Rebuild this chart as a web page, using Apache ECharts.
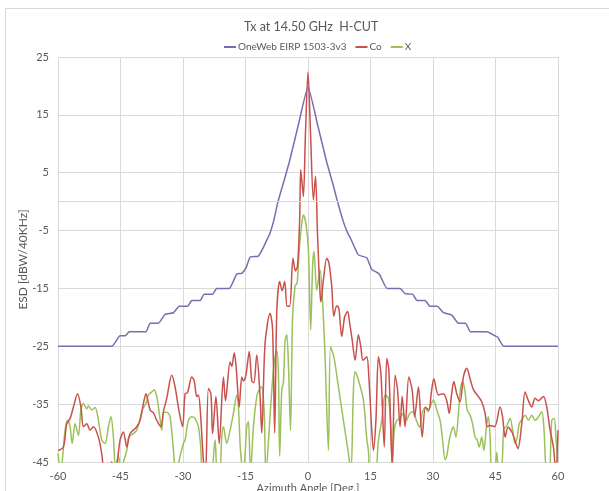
<!DOCTYPE html>
<html>
<head>
<meta charset="utf-8">
<script src="https://cdn.jsdelivr.net/npm/echarts@6/dist/echarts.min.js"></script>
<style>html,body{margin:0;padding:0;background:#fff;}#c{width:609px;height:491px;}</style>
</head>
<body>
<div id="c"></div>
<script>
const xTicks = [-60, -45, -30, -15, 0, 15, 30, 45, 60];
const yTicks = [-45, -35, -25, -15, -5, 5, 15, 25];

const envAngle = [-60, -47.1, -45.1, -43.9, -42.9, -38.9, -37.9, -35.9, -34.3, -32.3, -30.9, -28.9, -27.9, -25.9, -24.9, -22.9, -21.9, -18.9, -17.1, -15.9, -14.9, -13.9, -11.9, -10.7, -9.8, -9.1, -8.3, -7.2, -6.0, -4.5, -2.3, 0,
  2.3, 4.5, 6.0, 6.9, 8.5, 9.5, 10.3, 12.1, 14.1, 15.3, 17.1, 19.0, 22.1, 23.3, 25.1, 26.2, 28.1, 29.3, 31.0, 32.5, 34.5, 36.1, 37.8, 39.0, 42.9, 44.9, 45.5, 47.0, 60];
const envValue = [-25, -25, -23.2, -23.2, -22.5, -22.5, -21, -21, -19.5, -19.2, -18.1, -18.1, -17.1, -17.1, -16, -16, -15, -15, -12.5, -12.4, -11.5, -9.6, -9.4, -7.9, -6.5, -5.4, -3.5, 0, 3, 6.8, 13.3, 19.8,
  13.3, 6.8, 3, 0.5, -3.5, -5.4, -6.5, -9.2, -9.7, -11.7, -12.5, -15, -15, -15.9, -16, -17.1, -17.1, -18.1, -18.1, -19.2, -19.6, -21, -21, -22.5, -22.5, -23.2, -23.4, -25, -25];

const coAngle = [-60, -58.7, -57.9, -57.1, -56.3, -55.3, -54.5, -53.9, -53.1, -52.3, -51.5, -50.3, -49.5, -48.8, -47.8, -47.1, -46.3, -45.1, -44.3, -43.5, -42.7, -41.1, -40.3, -39.5, -38.9, -37.9, -37.1, -36.3, -35.3, -34.7, -33.9, -32.7, -31.9, -31, -30.1, -29.5, -28.9, -27.9, -27.3, -26.7, -26.3, -25.8, -25.1, -24.6, -23.9, -23.3, -22.9, -22.1, -21.3, -20.3, -19.8, -18.7, -18.3, -17.7, -17.2, -16.5, -15.9, -15.5, -14.9, -14.1, -13.5, -13, -12.3, -11.5, -11.1, -10.3, -9.1, -8.5, -8.0, -7.5, -6.8, -6.2, -5.6, -5.0, -4.4, -3.6, -3.0, -2.5, -2.0, -1.75, -1.4, -1.1, -0.6, 0,
  0.6, 1.3, 1.8, 2.3, 2.9, 3.1, 3.7, 4.5, 5.0, 5.7, 6.2, 6.9, 7.4, 8.1, 8.8, 9.5, 10, 10.6, 11.3, 12.1, 12.7, 13.2, 14.1, 14.6, 15.3, 15.7, 16.3, 16.9, 17.5, 18.3, 18.9, 19.4, 20.2, 20.9, 21.5, 22.1, 22.6, 23.3, 24.2, 25, 25.6, 26.5, 27.4, 28.2, 29, 29.6, 30.2, 31.3, 32.5, 33.3, 33.9, 34.4, 35, 35.7, 36.5, 37.3, 38.1, 38.9, 39.7, 40.9, 41.7, 42.5, 43, 43.6, 44.8, 46.1, 46.7, 47.3, 48, 49, 49.9, 50.4, 51.3, 52.1, 52.9, 53.7, 54.5, 55.3, 56.5, 57.3, 58.1, 58.9, 59.5, 60];
const coValue = [-43, -42.4, -38.4, -37.5, -35.5, -33.2, -35.5, -38.9, -38.4, -39.5, -38.9, -40.7, -43.6, -47, -46, -45, -47, -41.2, -39.8, -42.4, -40.1, -38.9, -37.8, -34.9, -33.2, -36, -36.5, -37.8, -38.9, -36.3, -34, -30, -32, -36, -38.9, -33.2, -33, -30.3, -31, -33.7, -33.4, -36.6, -44.7, -47, -32.3, -33.2, -40.1, -33.7, -41.8, -30.3, -34.4, -27.7, -28.5, -26.1, -29, -35.5, -30.3, -31, -30, -25.9, -31, -31.3, -26.5, -33.7, -40, -24.5, -19.3, -22, -40, -19.3, -13.8, -15.4, -13.8, -18.1, -18.1, -9.8, -12, -11, -3, 5.5, 3, 0.9, 12, 22.4,
  12, 0.3, 4.4, -6, -16, -17.3, -13.5, -9.8, -10.5, -14.7, -19.8, -18, -18.4, -23.3, -19.9, -19, -21, -23.9, -27.4, -23, -25.2, -27.4, -26.8, -30.3, -39.5, -43, -37.8, -26.8, -29.7, -42.4, -27.1, -29.1, -45.5, -30, -32.6, -38.9, -33.7, -38.9, -30.3, -32.6, -37.2, -32, -40.7, -35.6, -36, -33, -30.6, -33.4, -33.2, -34.4, -36.6, -33.7, -31.1, -33.2, -34.6, -30.3, -28.8, -30.6, -32.5, -33.7, -34.6, -36.6, -38.9, -38.7, -38.9, -35.5, -37.2, -40.7, -39, -39.9, -41.8, -42.7, -38.4, -32.9, -34.4, -35.5, -34, -34.4, -33.7, -35.5, -39.5, -42.4, -47, -39.5];

const xAngle = [-60, -59.4, -58.3, -57.7, -57.1, -56.6, -55.9, -55.1, -54.5, -53.9, -53.1, -52.7, -51.9, -51.1, -50.3, -49.5, -48.7, -47.9, -47.3, -46.7, -46.2, -45.5, -44.9, -44.3, -43.5, -43, -41.9, -41.1, -40.3, -39.8, -38.9, -38.3, -37.5, -36.9, -36.3, -35.7, -35.1, -34.7, -33.9, -33.1, -32.3, -31.7, -30.7, -29.9, -29.5, -28.7, -27.9, -27.1, -26.3, -25.8, -25.2, -23.5, -22.3, -21.8, -21.2, -20.7, -20.3, -19.5, -18.7, -17.9, -17.1, -16.7, -16.2, -15.5, -14.7, -14.3, -13.8, -13.1, -12.3, -11.8, -11.1, -10.5, -10.1, -9.1, -8.5, -7.9, -7.5, -7.1, -6.8, -6.3, -5.9, -5.5, -5.1, -4.7, -4.2, -3.7, -3.1, -2.6, -2.1, -1.5, -1.1, -0.5, 0.1, 0.65, 1.1, 1.45, 2.1, 2.9, 3.5, 4.1, 4.9, 5.4, 6.2, 7.3, 8.5, 9.3, 9.7, 10.3, 10.9, 11.3, 12.0, 13.3, 14.1, 14.5, 14.9, 16.1, 16.9, 17.7, 18.5, 19.3, 19.9, 20.2, 20.7, 21.3, 22, 22.8, 23.6, 24.4, 25.2, 26, 26.8, 27.4, 28.2, 28.8, 29.3, 30.1, 30.9, 31.7, 32.3, 32.9, 33.3, 33.9, 34.5, 34.9, 35.5, 36.1, 36.6, 37.1, 37.7, 38.2, 38.9, 39.5, 40.1, 40.6, 41.1, 41.7, 42.2, 42.9, 43.3, 43.7, 44.1, 44.7, 45.3, 45.8, 46.5, 47.0, 47.6, 48.5, 49.1, 49.7, 50.2, 50.7, 51.5, 52.1, 52.9, 53.7, 54.5, 55.3, 56.1, 56.6, 57.3, 57.9, 58.5, 59.1, 59.5, 60];
const xValue = [-43.5, -47, -39.5, -37.8, -38.9, -41.8, -38.4, -40.4, -36, -34.9, -35.8, -35.3, -36, -35.6, -37.8, -41.2, -41.8, -38.9, -37.2, -40.7, -46, -44, -46, -45, -43, -40.7, -40.1, -39.5, -37.5, -36, -34.9, -33.4, -32.9, -32.5, -33.7, -36.5, -39.5, -36.5, -36.4, -37.2, -43, -47, -44, -41.8, -41.2, -37.8, -37.2, -37.5, -38.9, -42, -47, -48, -41.2, -47, -47, -40.7, -38.9, -41.8, -39.5, -36.6, -33.4, -35.5, -43, -47, -38.9, -38, -47, -38.9, -33.7, -32.6, -32, -36.6, -47, -37, -30.8, -26.8, -25.8, -29.7, -44, -32.6, -31.2, -24, -23, -28, -39.5, -19.9, -14.6, -14, -8.3, -3.8, -2.3, -3.8, -8.3, -22.2, -11.2, -8.6, -15.3, -11.8, -17.3, -26.8, -43, -25.1, -26.8, -32, -37.8, -41.6, -43.5, -47, -32.6, -29.4, -30.6, -34.3, -41, -43, -47, -47, -41.3, -37.8, -33.4, -34, -39, -46, -39.5, -37.8, -37.5, -36.6, -37.8, -36.6, -36.3, -37.8, -39, -36.6, -35.5, -36.3, -35.5, -34.3, -36, -37.8, -41.2, -44.6, -44, -41.2, -39.5, -38.9, -40.7, -36.6, -32.3, -31.1, -32.9, -36, -36.9, -38.4, -40.7, -41.2, -42.4, -40.7, -43, -38.4, -37.2, -40.7, -47, -47, -43.3, -47, -46, -39.2, -38.9, -37.5, -39.5, -41.8, -40.7, -38.4, -37.5, -36.9, -37.8, -36.9, -37.8, -37.2, -36.3, -38.9, -47, -47, -37.8, -37.5, -40.7, -46];

const pairs = (a, v) => a.map((x, i) => [x, v[i]]);
const textColor = '#595959';
const gridColor = '#d9d9d9';

const chart = echarts.init(document.getElementById('c'), null, {renderer: 'canvas'});
chart.setOption({
  animation: false,
  backgroundColor: '#fff',
  graphic: [{
    type: 'rect', left: 5, top: 8, silent: true, z: -10,
    shape: {x: 0, y: 0, width: 640, height: 520},
    style: {fill: '#fff', stroke: '#d9d9d9', lineWidth: 1}
  }],
  title: {
    text: 'Tx at 14.50 GHz  H-CUT',
    left: 239, top: 15,
    textStyle: {fontFamily: 'Lato', fontSize: 12.5, fontWeight: 'normal', color: textColor}
  },
  legend: {
    top: 37, left: 219,
    itemWidth: 12, itemHeight: 2, itemGap: 9,
    icon: 'rect',
    textStyle: {fontFamily: 'Lato', fontSize: 10, color: textColor, padding: [0, 0, 0, -3]},
    data: ['OneWeb EIRP 1503-3v3', 'Co', 'X']
  },
  grid: {left: 58, right: 51, top: 57, bottom: 29, containLabel: false, outerBoundsMode: 'none'},
  xAxis: {
    type: 'value', min: xTicks[0], max: xTicks[xTicks.length - 1], interval: 15,
    name: 'Azimuth Angle [Deg.]', nameLocation: 'middle', nameGap: 21, nameMoveOverlap: false,
    nameTextStyle: {fontFamily: 'Lato', fontSize: 11, color: textColor},
    axisLine: {show: false}, axisTick: {show: false},
    axisLabel: {fontFamily: 'Lato', fontSize: 11, color: textColor, margin: 9},
    splitLine: {show: true, lineStyle: {color: gridColor, width: 1}}
  },
  yAxis: {
    type: 'value', min: yTicks[0], max: yTicks[yTicks.length - 1], interval: 10,
    name: 'ESD [dBW/40KHz]', nameLocation: 'middle', nameGap: 29, nameRotate: 90, nameMoveOverlap: false,
    nameTextStyle: {fontFamily: 'Lato', fontSize: 12, color: textColor},
    axisLine: {show: false}, axisTick: {show: false},
    axisLabel: {fontFamily: 'Lato', fontSize: 11, color: textColor, margin: 9},
    splitLine: {show: true, lineStyle: {color: gridColor, width: 1}}
  },
  series: [
    {
      name: 'OneWeb EIRP 1503-3v3', type: 'line', showSymbol: false, symbol: 'none',
      data: pairs(envAngle, envValue), smooth: 0.15, z: 4,
      lineStyle: {color: '#7f6ab0', width: 1.5}, itemStyle: {color: '#7f6ab0'},
      markLine: {
        silent: true, symbol: 'none', label: {show: false},
        lineStyle: {color: gridColor, type: 'solid', width: 1},
        data: [{yAxis: 0}]
      }
    },
    {
      name: 'Co', type: 'line', showSymbol: false, symbol: 'none',
      data: pairs(coAngle, coValue), smooth: 0.3, z: 3, clip: true,
      lineStyle: {color: '#c9504b', width: 1.5}, itemStyle: {color: '#c9504b'}
    },
    {
      name: 'X', type: 'line', showSymbol: false, symbol: 'none',
      data: pairs(xAngle, xValue), smooth: 0.3, z: 2, clip: true,
      lineStyle: {color: '#9cc05a', width: 1.5}, itemStyle: {color: '#9cc05a'}
    }
  ]
});
</script>
</body>
</html>
